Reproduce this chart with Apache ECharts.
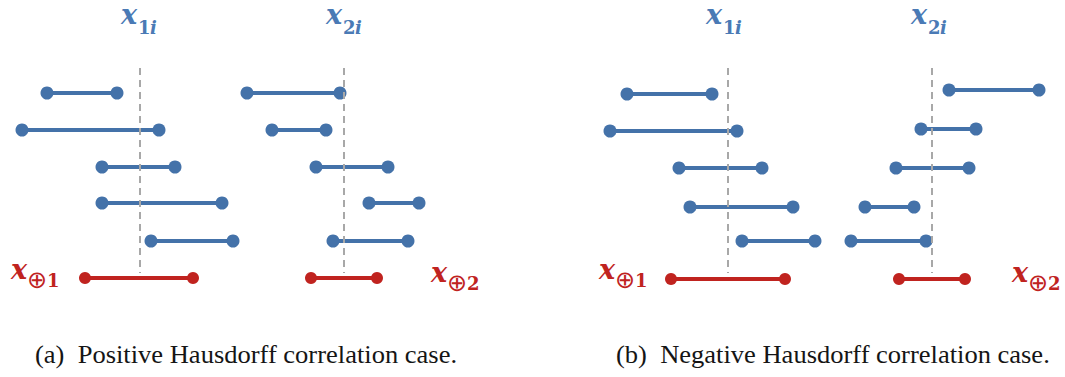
<!DOCTYPE html>
<html><head><meta charset="utf-8">
<script src="https://cdn.jsdelivr.net/npm/echarts@6/dist/echarts.min.js"></script>
<style>html,body{margin:0;padding:0;background:#fff}#c{width:1065px;height:377px}</style>
</head><body><div id="c"></div>
<script>
// ---------- data (horizontal units = positions along the shared axis) ----------
// Panel (a): positive Hausdorff correlation
const aRows   = [93, 130, 167, 203, 241];
const aX1Lo   = [47, 22, 102, 102, 151];
const aX1Hi   = [117, 159, 175, 222, 233];
const aX2Lo   = [247, 272, 316, 369, 333];
const aX2Hi   = [340, 326, 388, 419, 408];
const aAgg1   = [85, 193];
const aAgg2   = [311, 377];
const aAggRow = 278;
// Panel (b): negative Hausdorff correlation
const bRows1  = [94, 131, 168, 207, 241];
const bRows2  = [90, 129, 168, 207, 241];
const bX1Lo   = [627, 610, 679, 690, 742];
const bX1Hi   = [712, 737, 762, 793, 815];
const bX2Lo   = [949, 921, 896, 865, 851];
const bX2Hi   = [1039, 976, 969, 914, 926];
const bAgg1   = [671, 785];
const bAgg2   = [899, 965];
const bAggRow = 279;
// Reference (dashed) lines
const refX    = [140, 344, 728, 932];
const refSpan = [68, 273];
// Labels
const topLabelX   = [121, 326, 706, 911];
const topLabelSub = ['1', '2', '1', '2'];
const topLabelY   = 22;
const aggLabelX   = [11, 431, 599, 1012];
const aggLabelY   = [277, 280, 277, 280];
const aggLabelSub = ['1', '2', '1', '2'];
const captions    = ['(a)  Positive Hausdorff correlation case.', '(b)  Negative Hausdorff correlation case.'];
const captionX    = [35, 616];

// ---------- build ----------
const BLUE = '#4472a9', RED = '#c0231f', GRAY = '#a8a8a8', LBLUE = '#4a7ab5';
function seg(lo, hi, rows) { return lo.map((v, i) => [v, hi[i], rows[i]]); }
const blueData = [].concat(
  seg(aX1Lo, aX1Hi, aRows), seg(aX2Lo, aX2Hi, aRows),
  seg(bX1Lo, bX1Hi, bRows1), seg(bX2Lo, bX2Hi, bRows2));
const redData = [
  [aAgg1[0], aAgg1[1], aAggRow], [aAgg2[0], aAgg2[1], aAggRow],
  [bAgg1[0], bAgg1[1], bAggRow], [bAgg2[0], bAgg2[1], bAggRow]];
const refData = refX.map(x => [x, refSpan[0], refSpan[1]]);
const topLblData = topLabelX.map((x, i) => [x, topLabelY, topLabelSub[i]]);
const aggLblData = aggLabelX.map((x, i) => [x, aggLabelY[i], aggLabelSub[i]]);

function segRender(color, lw, r) {
  return function (params, api) {
    const p1 = api.coord([api.value(0), api.value(2)]);
    const p2 = api.coord([api.value(1), api.value(2)]);
    return { type: 'group', children: [
      { type: 'line', shape: { x1: p1[0], y1: p1[1], x2: p2[0], y2: p2[1] }, style: { stroke: color, lineWidth: lw } },
      { type: 'circle', shape: { cx: p1[0], cy: p1[1], r: r }, style: { fill: color } },
      { type: 'circle', shape: { cx: p2[0], cy: p2[1], r: r }, style: { fill: color } }
    ]};
  };
}
function txt(x, y, text, color, size, weight, style, family) {
  return { type: 'text', x: x, y: y, style: { text: text, fill: color, fontSize: size, fontWeight: weight,
    fontStyle: style, fontFamily: family, align: 'left', verticalAlign: 'bottom' } };
}

const chart = echarts.init(document.getElementById('c'), null, { renderer: 'svg' });
chart.setOption({
  animation: false,
  backgroundColor: '#fff',
  grid: { left: 0, right: 0, top: 0, bottom: 0 },
  xAxis: { type: 'value', min: 0, max: 1065, show: false },
  yAxis: { type: 'value', min: 0, max: 377, inverse: true, show: false },
  graphic: captions.map((t, i) => ({
    type: 'text', x: captionX[i], y: 342, scaleX: 1.02,
    style: { text: t, fontFamily: 'Liberation Serif', fontSize: 26, fill: '#151515' }
  })),
  series: [
    { type: 'custom', data: blueData, renderItem: segRender(BLUE, 4, 6.5), z: 2, silent: true },
    { type: 'custom', data: redData, renderItem: segRender(RED, 4, 6), z: 2, silent: true },
    { type: 'custom', data: refData, z: 3, silent: true,
      renderItem: function (params, api) {
        const p1 = api.coord([api.value(0), api.value(1)]);
        const p2 = api.coord([api.value(0), api.value(2)]);
        return { type: 'line', shape: { x1: p1[0], y1: p1[1], x2: p2[0], y2: p2[1] },
          style: { stroke: GRAY, lineWidth: 2, lineDash: [7, 5] } };
      } },
    { type: 'custom', data: topLblData, z: 4, silent: true,
      renderItem: function (params, api) {
        const p = api.coord([api.value(0), api.value(1)]);
        const sub = topLabelSub[params.dataIndex];
        return { type: 'group', children: [
          txt(p[0], p[1] + 6, 'x', LBLUE, 27, 700, 'italic', 'DejaVu Serif'),
          txt(p[0] + 17, p[1] + 14, sub, LBLUE, 18, 700, 'normal', 'DejaVu Serif'),
          txt(p[0] + 29, p[1] + 14, 'i', LBLUE, 18, 700, 'italic', 'DejaVu Serif')
        ]};
      } },
    { type: 'custom', data: aggLblData, z: 4, silent: true,
      renderItem: function (params, api) {
        const p = api.coord([api.value(0), api.value(1)]);
        const sub = aggLabelSub[params.dataIndex];
        return { type: 'group', children: [
          txt(p[0], p[1] + 6, 'x', RED, 27, 700, 'italic', 'DejaVu Serif'),
          txt(p[0] + 16, p[1] + 15, '\u2295', RED, 24, 'normal', 'normal', 'DejaVu Sans'),
          txt(p[0] + 36, p[1] + 12, sub, RED, 18, 700, 'normal', 'DejaVu Serif')
        ]};
      } }
  ]
});
</script></body></html>
